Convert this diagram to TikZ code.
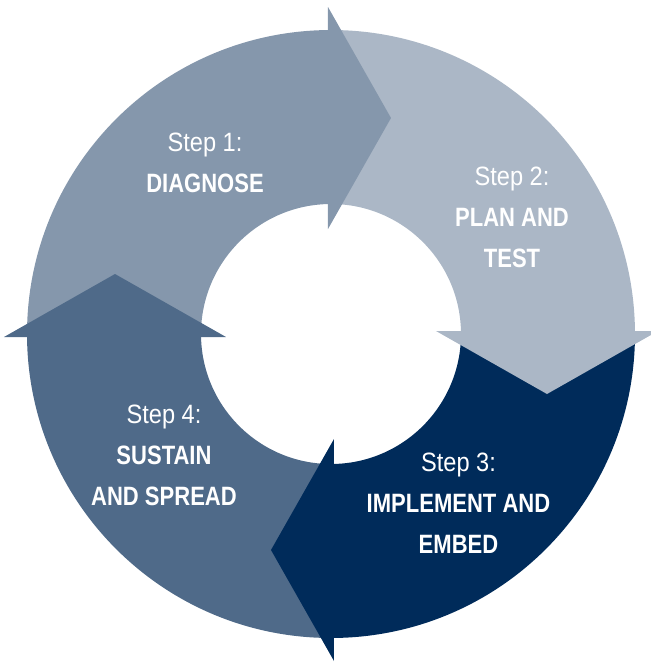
\documentclass[tikz,border=0pt]{standalone}
\usepackage{fontspec}
\setmainfont{Liberation Sans}[FakeStretch=0.89]
\newfontfamily\stepboldfont{Liberation Sans}[FakeStretch=0.83]
\newcommand{\stepbf}[1]{{\stepboldfont\bfseries #1}}
\definecolor{cone}{HTML}{8597AC}
\definecolor{ctwo}{HTML}{ABB7C6}
\definecolor{cthree}{HTML}{002B5A}
\definecolor{cfour}{HTML}{4F6A89}
\tikzset{
  steptext/.style={text=white, align=center, inner sep=0pt, anchor=base,
    font=\fontsize{19.9}{30.5}\selectfont},
}
\newcommand{\mysector}[2]{%
  \fill[#2, rotate=#1] (180.565:304) arc[start angle=180.565, end angle=90.565, radius=304]
      -- (91.32:130) arc[start angle=91.32, end angle=181.32, radius=130] -- cycle;}
\newcommand{\myhead}[2]{%
  \fill[#2, rotate=#1] (-3,105) -- (-3,327) -- (60,216) -- cycle;}
\begin{document}
\begin{tikzpicture}[x=0.75pt,y=0.75pt]
\useasboundingbox (-331,-328) rectangle (320,334);
\clip (-331,-328) rectangle (320,334);
% ring sectors
\mysector{0}{cone}
\mysector{-90}{ctwo}
\mysector{180}{cthree}
\mysector{90}{cfour}
% arrow heads
\myhead{0}{cone}
\myhead{-90}{ctwo}
\myhead{180}{cthree}
\myhead{90}{cfour}
% labels (anchor base = baseline of the last line)
\node[steptext] (s1) at (-126,142) {Step 1:\\\stepbf{DIAGNOSE}};
\node[steptext] (s2) at (181,67) {Step 2:\\\stepbf{PLAN AND}\\\stepbf{TEST}};
\node[steptext] (s3) at (127.5,-219) {Step 3:\\\stepbf{IMPLEMENT AND}\\\stepbf{EMBED}};
\node[steptext] (s4) at (-167,-171) {Step 4:\\\stepbf{SUSTAIN}\\\stepbf{AND SPREAD}};
\end{tikzpicture}
\end{document}
